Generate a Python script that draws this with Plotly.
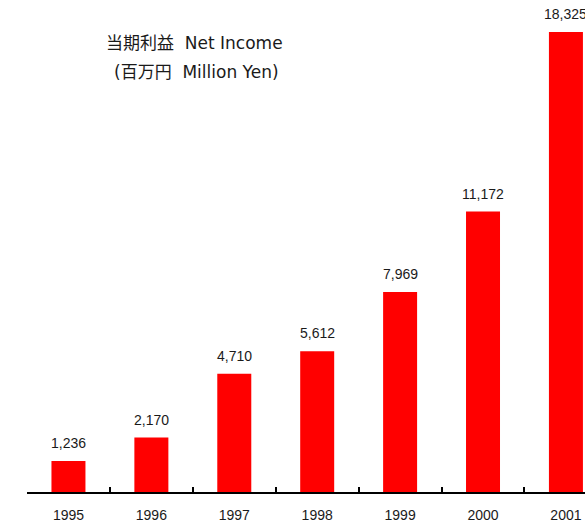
import plotly.graph_objects as go

years = ["1995", "1996", "1997", "1998", "1999", "2000", "2001"]
net_income = [1236, 2170, 4710, 5612, 7969, 11172, 18325]
value_labels = [f"{v:,}" for v in net_income]
title_line1 = "当期利益  Net Income"
title_line2 = "(百万円  Million Yen)"

L, R, T, B = 27, 0, 0, 31
W, H = 585, 523
pw, ph = W - L - R, H - T - B

def px_to_paper(x, y):
    return (x - L) / pw, (H - y - B) / ph

fig = go.Figure()
fig.add_trace(go.Bar(
    x=years, y=net_income, width=0.41,
    marker=dict(color="#ff0000", line=dict(width=0)),
    hoverinfo="x+y",
))

annotations = []
for i, (v, t) in enumerate(zip(net_income, value_labels)):
    annotations.append(dict(
        x=i, y=v, text=t, showarrow=False, xref="x", yref="y",
        yanchor="middle", yshift=18,
        font=dict(family="Liberation Sans, Arial, sans-serif", size=14, color="#1a1a1a"),
    ))
for text, (px, py) in [(title_line1, (194, 43)), (title_line2, (196, 72))]:
    xp, yp = px_to_paper(px, py)
    annotations.append(dict(
        x=xp, y=yp, xref="paper", yref="paper", text=text, showarrow=False,
        xanchor="center", yanchor="middle",
        font=dict(family="DejaVu Sans, Noto Sans CJK JP", size=17, color="#1a1a1a"),
    ))

fig.update_layout(
    width=W, height=H,
    margin=dict(l=L, r=R, t=T, b=B, pad=0, autoexpand=False),
    paper_bgcolor="white", plot_bgcolor="white",
    showlegend=False,
    annotations=annotations,
)
fig.update_xaxes(
    type="category", range=[-0.5, 6.23],
    showline=True, linecolor="black", linewidth=2,
    ticks="inside", tickson="boundaries", ticklen=5, tickwidth=2, tickcolor="black",
    showgrid=False, zeroline=False, automargin=False,
    tickfont=dict(family="Liberation Sans, Arial, sans-serif", size=14, color="#1a1a1a"),
    ticklabelstandoff=9,
)
fig.update_yaxes(
    range=[0, 19600], visible=False, showgrid=False, zeroline=False, automargin=False,
)

fig.write_html(
    "out.html",
    config={"displayModeBar": False},
    post_script="document.body.style.margin='0';document.body.style.padding='0';",
)
